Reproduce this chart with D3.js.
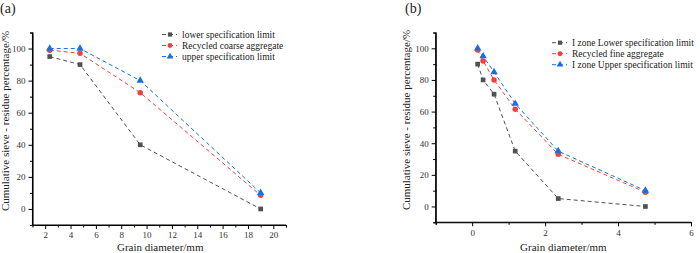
<!DOCTYPE html>
<html><head><meta charset="utf-8">
<script src="https://cdn.jsdelivr.net/npm/d3@7"></script>
<style>
html,body{margin:0;padding:0;background:#fff;}
svg text{font-family:"Liberation Serif","DejaVu Serif",serif !important;}
</style></head>
<body><svg id="c" width="700" height="253"></svg>
<script>
// Panel (a): coarse aggregate
const sievesA = [2.36, 4.75, 9.5, 19];
const lowerA = [95, 90, 40, 0];
const recycledA = [99, 97, 72.5, 8.5];
const upperA = [100, 100, 80, 10];
const namesA = ["lower specification limit", "Recycled coarse aggregate", "upper specification limit"];
const xTicksA = [2, 4, 6, 8, 10, 12, 14, 16, 18, 20];

// Panel (b): fine aggregate
const sievesB = [0.15, 0.3, 0.6, 1.18, 2.36, 4.75];
const lowerB = [90, 80, 71, 35, 5, 0];
const recycledB = [99, 92, 80, 61.5, 33, 9];
const upperB = [100, 95, 85, 65, 35, 10];
const namesB = ["I zone Lower specification limit", "Recycled fine aggregate", "I zone Upper specification limit"];
const xTicksB = [0, 2, 4, 6];

const yTicks = [0, 20, 40, 60, 80, 100];
const colors = ["#515151", "#F14040", "#1A6FDF"];
const shapes = [d3.symbolSquare, d3.symbolCircle, d3.symbolTriangle];
const symSize = [22, 24, 24];

const svg = d3.select("#c");

function panel(o) {
  const g = svg.append("g");
  const x = d3.scaleLinear().domain(o.xDom).range([o.left, o.right]);
  const y = d3.scaleLinear().domain([-10, 110]).range([o.bottom, o.top]);

  const xa = d3.axisBottom(x).tickValues(o.xMinor).tickSize(2.5).tickFormat("");
  g.append("g").attr("transform", `translate(0,${o.bottom})`).call(xa);
  const ya = d3.axisLeft(y).tickValues([-10,10,30,50,70,90,110]).tickSize(2.5).tickFormat("");
  g.append("g").attr("transform", `translate(${o.left},0)`).call(ya);

  const xAxis = g.append("g").attr("transform", `translate(0,${o.bottom})`)
    .call(d3.axisBottom(x).tickValues(o.xTicks).tickSize(4).tickPadding(3).tickFormat(d3.format("d")));
  const yAxis = g.append("g").attr("transform", `translate(${o.left},0)`)
    .call(d3.axisLeft(y).tickValues(yTicks).tickSize(4).tickPadding(3));
  g.selectAll(".domain").attr("stroke", "#000").attr("stroke-width", 1.1);
  g.selectAll(".tick line").attr("stroke", "#000");
  g.selectAll(".tick text").attr("font-size", 9).attr("fill", "#333");
  xAxis.selectAll(".domain").attr("d", `M${o.left},0H${o.right}`);
  yAxis.selectAll(".domain").attr("d", `M0,${o.bottom}V${o.top}`);

  const series = [o.lower, o.recycled, o.upper];
  const line = d3.line().x((d, i) => x(o.sieves[i])).y(d => y(d));
  series.forEach((s, k) => {
    g.append("path").datum(s).attr("d", line).attr("fill", "none")
      .attr("stroke", colors[k]).attr("stroke-width", 1).attr("stroke-dasharray", "4,3");
  });
  series.forEach((s, k) => {
    g.selectAll(null).data(s).enter().append("path")
      .attr("d", d3.symbol().type(shapes[k]).size(symSize[k]))
      .attr("transform", (d, i) => `translate(${x(o.sieves[i])},${y(d)})`)
      .attr("fill", colors[k]);
  });

  o.names.forEach((n, k) => {
    const ly = o.legY + k * 11;
    g.append("line").attr("x1", o.legX).attr("x2", o.legX + 15).attr("y1", ly).attr("y2", ly)
      .attr("stroke", colors[k]).attr("stroke-dasharray", "4,3");
    g.append("path").attr("d", d3.symbol().type(shapes[k]).size(symSize[k] * 0.8))
      .attr("transform", `translate(${o.legX + 8},${ly})`).attr("fill", colors[k]);
    g.append("text").attr("x", o.legX + 20).attr("y", ly + 3.3).attr("font-size", o.legFont)
      .attr("fill", "#222").text(n);
  });

  g.append("text").attr("x", (o.left + o.right) / 2 - o.xlShift).attr("y", 251).attr("text-anchor", "middle")
    .attr("font-size", 11).attr("fill", "#222").text("Grain diameter/mm");
  g.append("text").attr("transform", `translate(${o.ylX},${o.ylY}) rotate(-90)`)
    .attr("text-anchor", "middle").attr("font-size", 11).attr("fill", "#222")
    .text("Cumulative sieve - residue percentage/%");
  g.append("text").attr("x", o.tagX).attr("y", 13).attr("font-size", 14).attr("fill", "#222").text(o.tag);
}

panel({xDom: [1, 21], left: 32.5, right: 286, top: 32.5, bottom: 225,
  xTicks: xTicksA, xMinor: [3,5,7,9,11,13,15,17,19,21],
  sieves: sievesA, lower: lowerA, recycled: recycledA, upper: upperA, names: namesA,
  legX: 162, legY: 34.5, legFont: 9.5, xlShift: -1, ylX: 9, ylY: 121, tag: "(a)", tagX: 0});

panel({xDom: [-1, 6], left: 435.7, right: 691, top: 32.5, bottom: 222.3,
  xTicks: xTicksB, xMinor: [-1,1,3,5],
  sieves: sievesB, lower: lowerB, recycled: recycledB, upper: upperB, names: namesB,
  legX: 552, legY: 42.7, legFont: 9.5, xlShift: 0, ylX: 410, ylY: 120, tag: "(b)", tagX: 405});
</script></body></html>
